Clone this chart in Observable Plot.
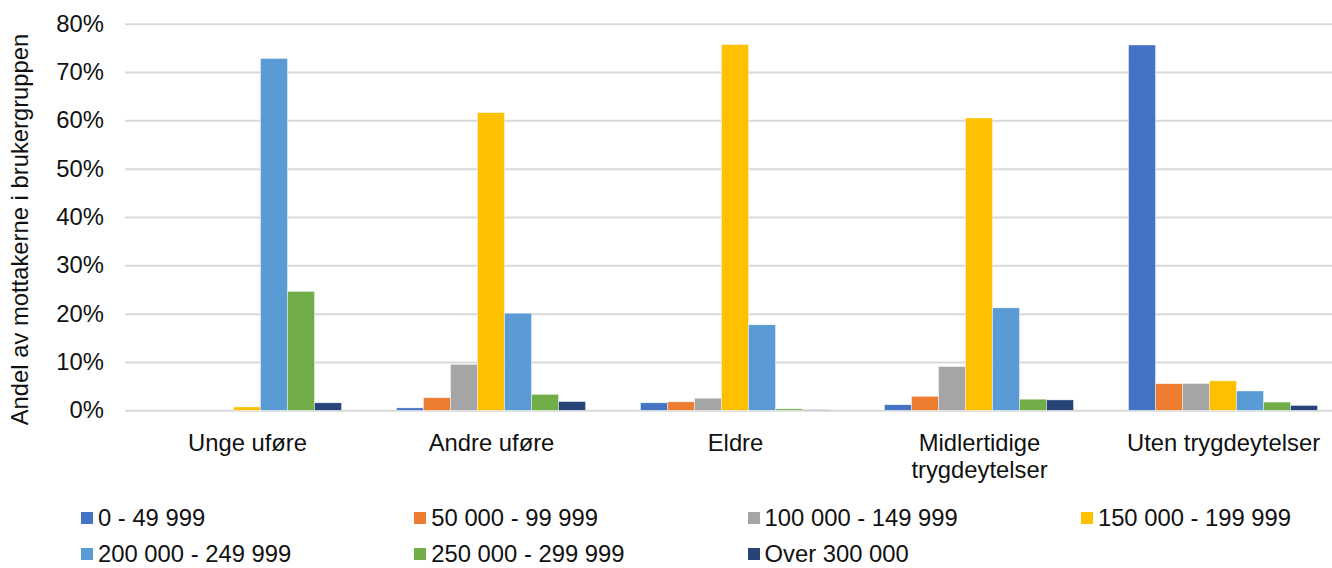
<!DOCTYPE html>
<html>
<head>
<meta charset="utf-8">
<script src="https://cdn.jsdelivr.net/npm/d3@7"></script>
<script src="https://cdn.jsdelivr.net/npm/@observablehq/plot@0.6"></script>
<style>
  html, body { margin: 0; padding: 0; background: #fff; overflow: hidden; }
  body { width: 1332px; font-family: "Liberation Sans", Arial, sans-serif; }
  #legend { position: relative; width: 1332px; height: 73px; display: grid;
    grid-template-columns: repeat(4, 333.3px); grid-template-rows: 36px 37px;
    padding-left: 81px; padding-top: 3.5px; box-sizing: border-box; overflow: hidden; }
  .item { display: flex; align-items: center; align-self: start; margin-top: 8.5px; height: 22px; line-height: 22px;
    font-size: 23.8px; color: #111; white-space: nowrap; }
  .sw { width: 12px; height: 12px; margin-right: 5px; flex: none; }
</style>
</head>
<body>
<div id="chart"></div>
<div id="legend"></div>
<script>
const groups = ["Unge uføre", "Andre uføre", "Eldre", "Midlertidige trygdeytelser", "Uten trygdeytelser"];
const groupLabels = ["Unge uføre", "Andre uføre", "Eldre", "Midlertidige\ntrygdeytelser", "Uten trygdeytelser"];
const series = ["0 - 49 999", "50 000 - 99 999", "100 000 - 149 999", "150 000 - 199 999", "200 000 - 249 999", "250 000 - 299 999", "Over 300 000"];
const colors = ["#4472C4", "#ED7D31", "#A5A5A5", "#FFC000", "#5B9BD5", "#70AD47", "#264478"];

// percent per group (Unge uføre, Andre uføre, Eldre, Midlertidige, Uten)
const v0_49 = [0, 0.5, 1.55, 1.15, 75.6];
const v50_99 = [0, 2.6, 1.75, 2.9, 5.5];
const v100_149 = [0, 9.5, 2.5, 9.05, 5.55];
const v150_199 = [0.7, 61.6, 75.7, 60.5, 6.1];
const v200_249 = [72.8, 20.1, 17.7, 21.2, 4.0];
const v250_299 = [24.6, 3.3, 0.3, 2.3, 1.7];
const vOver300 = [1.55, 1.8, 0.1, 2.15, 1.0];

const yTicks = [0, 10, 20, 30, 40, 50, 60, 70, 80];
const yTitle = "Andel av mottakerne i brukergruppen";

const seriesValues = [v0_49, v50_99, v100_149, v150_199, v200_249, v250_299, vOver300];
const table = [];
series.forEach((s, i) => groups.forEach((g, j) => {
  if (seriesValues[i][j] > 0) table.push({group: g, series: s, value: seriesValues[i][j]});
}));

const font = "\"Liberation Sans\", Arial, sans-serif";
const chart = Plot.plot({
  width: 1332,
  height: 495,
  marginLeft: 124.5,
  marginRight: -12.5,
  marginTop: 23.7,
  marginBottom: 84.7,
  style: {fontFamily: font, color: "#111", background: "#fff", overflow: "hidden"},
  fx: {domain: groups, padding: 0, label: null, axis: null},
  x: {domain: series, paddingInner: 0, paddingOuter: 1.0185, axis: null},
  y: {domain: [0, 80], axis: null},
  color: {domain: series, range: colors},
  marks: [
    Plot.ruleY(yTicks, {y: d => d, stroke: "#d9d9d9", strokeWidth: 2}),
    Plot.barY(table, {fx: "group", x: "series", y: "value", fill: "series", stroke: "#fff", strokeWidth: 0.6, strokeOpacity: 0.7}),
    Plot.axisY({ticks: yTicks, tickFormat: d => d + "%", tickSize: 0, tickPadding: 21.5, fontSize: 23.8, label: null, fill: "#111"}),
    Plot.text([yTitle], {fx: () => groups[0], frameAnchor: "left", rotate: -90, textAnchor: "middle", lineAnchor: "top", dx: -114, dy: 12, fontSize: 23.8, fill: "#111"}),
    Plot.axisFx({anchor: "bottom", tickSize: 0, tickPadding: 21, fontSize: 23.8, label: null, lineHeight: 1.13, fill: "#111",
      tickFormat: d => groupLabels[groups.indexOf(d)]})
  ]
});
document.getElementById("chart").appendChild(chart);

const legend = d3.select("#legend");
series.forEach((s, i) => {
  const item = legend.append("div").attr("class", "item");
  item.append("span").attr("class", "sw").style("background", colors[i]);
  item.append("span").text(s);
});
</script>
</body>
</html>
